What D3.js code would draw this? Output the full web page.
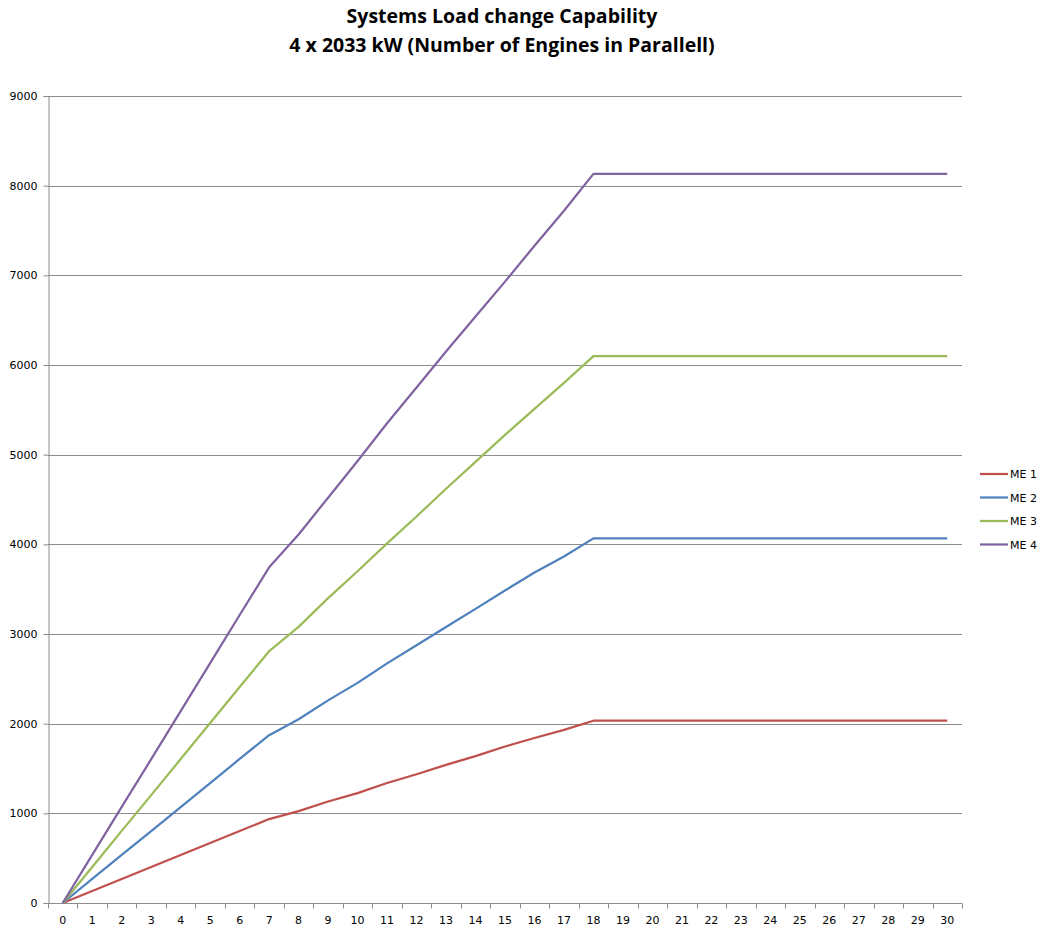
<!DOCTYPE html>
<html>
<head>
<meta charset="utf-8">
<script src="https://cdn.jsdelivr.net/npm/d3@7"></script>
<style>
  body { margin: 0; background: #fff; }
  svg { display: block; }
</style>
</head>
<body>
<svg id="chart" width="1039" height="926"></svg>
<script>
const titleLines = ["Systems Load  change Capability", "4 x 2033 kW (Number of Engines in Parallell)"];
const categories = d3.range(0, 31).map(String);
const seriesNames = ["ME 1", "ME 2", "ME 3", "ME 4"];
const seriesColors = ["#C0504D", "#4F81BD", "#9BBB59", "#8064A2"];
const me1 = [0, 134, 268, 401, 535, 669, 803, 936, 1024, 1132, 1226, 1338, 1436, 1540, 1638, 1745, 1840, 1930, 2033, 2033, 2033, 2033, 2033, 2033, 2033, 2033, 2033, 2033, 2033, 2033, 2033];
const me2 = [0, 268, 536, 802, 1070, 1338, 1606, 1872, 2050, 2260, 2455, 2672, 2875, 3078, 3280, 3485, 3685, 3865, 4066, 4066, 4066, 4066, 4066, 4066, 4066, 4066, 4066, 4066, 4066, 4066, 4066];
const me3 = [0, 402, 804, 1203, 1605, 2007, 2409, 2808, 3080, 3400, 3700, 4010, 4310, 4620, 4920, 5220, 5510, 5800, 6099, 6099, 6099, 6099, 6099, 6099, 6099, 6099, 6099, 6099, 6099, 6099, 6099];
const me4 = [0, 536, 1072, 1604, 2140, 2676, 3212, 3744, 4110, 4520, 4930, 5350, 5750, 6150, 6540, 6930, 7330, 7720, 8132, 8132, 8132, 8132, 8132, 8132, 8132, 8132, 8132, 8132, 8132, 8132, 8132];
const yTicks = [0, 1000, 2000, 3000, 4000, 5000, 6000, 7000, 8000, 9000];

const series = [me1, me2, me3, me4];
const svg = d3.select("#chart");
const plotLeft = 48, plotRight = 962, plotTop = 96, plotBottom = 903;
const gridColor = "#8c8c8c";
const labelFont = "Tahoma, 'DejaVu Sans', sans-serif";

// Title
svg.append("g").selectAll("text").data(titleLines).join("text")
  .attr("x", 502).attr("y", (d, i) => 23 + i * 29)
  .attr("text-anchor", "middle")
  .attr("font-family", "'Open Sans', 'Liberation Sans', sans-serif")
  .attr("font-weight", "bold")
  .attr("font-size", 19.5)
  .attr("fill", "#000")
  .text(d => d);

const xBand = d3.scaleBand().domain(categories).range([plotLeft, plotRight]);
const xPoint = d3.scalePoint().domain(categories).range([plotLeft, plotRight]).padding(0.5);
const y = d3.scaleLinear().domain([0, 9000]).range([plotBottom, plotTop]);

// Gridlines
svg.append("g").selectAll("line").data(yTicks.filter(v => v > 0)).join("line")
  .attr("x1", plotLeft).attr("x2", plotRight)
  .attr("y1", d => Math.round(y(d)) + 0.5).attr("y2", d => Math.round(y(d)) + 0.5)
  .attr("stroke", gridColor).attr("stroke-width", 1);

// Y axis
const yAxis = svg.append("g").attr("transform", `translate(${plotLeft + 0.5},0)`)
  .call(d3.axisLeft(y).tickValues(yTicks).tickSize(5).tickPadding(6).tickFormat(d3.format("d")));
yAxis.select(".domain").attr("stroke", gridColor);
yAxis.selectAll(".tick line").attr("stroke", gridColor);
yAxis.selectAll(".tick text").attr("font-family", labelFont).attr("font-size", 11).attr("fill", "#000");

// X axis: ticks at band boundaries, labels at centers
const xg = svg.append("g").attr("transform", `translate(0,${plotBottom + 0.5})`);
xg.append("line").attr("x1", plotLeft).attr("x2", plotRight).attr("stroke", gridColor);
const bounds = categories.map(c => xBand(c)).concat([plotRight]);
xg.selectAll("line.tk").data(bounds).join("line").attr("class", "tk")
  .attr("x1", d => Math.round(d) + 0.5).attr("x2", d => Math.round(d) + 0.5)
  .attr("y1", 0).attr("y2", 5).attr("stroke", gridColor);
xg.selectAll("text").data(categories).join("text")
  .attr("x", d => xPoint(d)).attr("y", 20)
  .attr("text-anchor", "middle")
  .attr("font-family", labelFont).attr("font-size", 11).attr("fill", "#000")
  .text(d => d);

// Lines
const line = d3.line().x((d, i) => xPoint(categories[i])).y(d => y(d));
svg.append("g").selectAll("path").data(series).join("path")
  .attr("d", d => line(d))
  .attr("fill", "none")
  .attr("stroke", (d, i) => seriesColors[i])
  .attr("stroke-width", 2.25)
  .attr("stroke-linejoin", "round");

// Legend
const lg = svg.append("g").selectAll("g").data(seriesNames).join("g")
  .attr("transform", (d, i) => `translate(980,${474 + i * 23.5})`);
lg.append("line").attr("x1", 0).attr("x2", 28).attr("y1", 0).attr("y2", 0)
  .attr("stroke", (d, i) => seriesColors[i]).attr("stroke-width", 2.25);
lg.append("text").attr("x", 30).attr("y", 4)
  .attr("font-family", labelFont).attr("font-size", 11).attr("fill", "#000")
  .text(d => d);
</script>
</body>
</html>
